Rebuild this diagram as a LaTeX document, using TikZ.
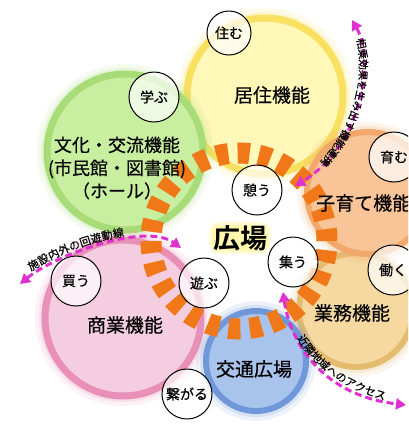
\documentclass[tikz,border=0pt]{standalone}
\usepackage{fontspec}
\setmainfont{Noto Sans CJK JP}[FakeBold=0.35]
\newfontfamily\jpbold{Noto Sans CJK JP Bold}
\usetikzlibrary{arrows.meta,decorations.text}
\definecolor{yfill}{HTML}{FFF8B8}
\definecolor{yline}{HTML}{F8E060}
\definecolor{gfill}{HTML}{C8EEA0}
\definecolor{gline}{HTML}{A8DC78}
\definecolor{pfill}{HTML}{F4CDE0}
\definecolor{pline}{HTML}{E890B8}
\definecolor{bfill}{HTML}{A8C4EC}
\definecolor{bline}{HTML}{7098D8}
\definecolor{tfill}{HTML}{F6D9A0}
\definecolor{tline}{HTML}{E4BC70}
\definecolor{ofill}{HTML}{F8C498}
\definecolor{oline}{HTML}{F2A86A}
\definecolor{ringorange}{HTML}{F07818}
\definecolor{mag}{HTML}{E030D0}
\definecolor{glowy}{HTML}{FFF060}
\newcommand\fnCircle[7]{%
  \fill[#6, opacity=0.12] (#2,#3) circle (#4+10);
  \fill[#6, opacity=0.18] (#2,#3) circle (#4+6);
  \node[bigcirc, minimum size=2*#4 pt, fill=#5, draw=#6, line width=#7] (#1) at (#2,#3) {};
}
\tikzset{
  bigcirc/.style={circle, inner sep=0pt},
  smallcirc/.style={circle, draw=black, line width=1pt, fill=white, fill opacity=0.7, text opacity=1,
    minimum size=50pt, inner sep=0pt, font=\fontsize{14}{14}\selectfont},
  biglabel/.style={font=\fontsize{19}{23}\selectfont, align=center, inner sep=0pt},
  ringdash/.style={draw=ringorange, line width=21pt, dash pattern=on 12pt off 9.27pt},
  flow/.style={draw=mag, line width=3pt, dash pattern=on 7pt off 4pt,
    {Triangle[length=10pt,width=11pt]}-{Triangle[length=10pt,width=11pt]}},
  flowtext/.style={decorate, decoration={text along path, text align={left indent=#1}}},
}
\begin{document}
\begin{tikzpicture}[x=1pt,y=1pt]
\useasboundingbox (0,0) rectangle (408,-424);
\clip (0,0) rectangle (408,-424);
\fill[white] (0,0) rectangle (408,-424);

% big circles
\fnCircle{kyoju}{265}{-96}{78}{yfill}{yline}{7pt}
\fnCircle{bunka}{125}{-152}{78}{gfill}{gline}{7pt}
\fnCircle{gyomu}{356}{-310}{57}{tfill}{tline}{6pt}
\fnCircle{kosodate}{368}{-193}{61}{ofill}{oline}{6pt}
\fnCircle{shogyo}{123}{-318}{78}{pfill}{pline}{7pt}
\fnCircle{kotsu}{256}{-361}{50}{bfill}{bline}{6pt}

% orange dashed ring
\coordinate (ring) at (239,-241);
\draw[ringdash] (ring) circle (88);

% labels
\node[biglabel] (lkyoju) at (272,-95) {居住機能};
\node[biglabel, font=\fontsize{18}{23}\selectfont] (lbunka) at (117,-168) {文化・交流機能\\(市民館・図書館)\\（ホール）};
\node[biglabel] (lshogyo) at (125,-325) {商業機能};
\node[biglabel] (lkotsu) at (254,-369) {交通広場};
\node[biglabel] (lgyomu) at (352,-313) {業務機能};
\node[biglabel, anchor=west] (lkosodate) at (316,-203) {子育て機能};

% plaza label with soft yellow glow
\fill[glowy, opacity=0.25, rounded corners=10pt] (209,-222) rectangle (271,-254);
\fill[glowy, opacity=0.35, rounded corners=7pt] (212,-225) rectangle (268,-251);
\node[font=\fontsize{27}{27}\selectfont\jpbold, inner sep=0pt] (hiroba) at (240,-238) {広場};

% small circles
\node[smallcirc, minimum size=44pt] (sumu) at (229,-33) {住む};
\node[smallcirc] (manabu) at (154,-97) {学ぶ};
\node[smallcirc] (ikou) at (257,-190) {憩う};
\node[smallcirc] (tsudou) at (293,-262) {集う};
\node[smallcirc] (asobu) at (204,-283) {遊ぶ};
\node[smallcirc] (kau) at (76,-281) {買う};
\node[smallcirc] (tsunagaru) at (187,-394) {繋がる};
\node[smallcirc] (hagukumu) at (394,-157) {育む};
\node[smallcirc] (hataraku) at (393,-270) {働く};

% magenta flows
\coordinate (a1s) at (352,-20);
\coordinate (a1e) at (295,-186);
\coordinate (a2s) at (20,-284);
\coordinate (a2e) at (181,-248);
\coordinate (a3s) at (283,-292);
\coordinate (a3e) at (406,-405);

\draw[flow] (a1s) .. controls (375,-60) and (362,-145) .. (a1e);
\draw[flow] (a2s) .. controls (55,-255) and (145,-222) .. (a2e);
\draw[flow] (a3s) .. controls (290,-340) and (320,-395) .. (a3e);

\path[flowtext=20pt, decoration={raise=-3pt, text={|\fontsize{10.5}{10.5}\selectfont|相乗効果を生み出す機能連携}}]
  (a1s) .. controls (375,-60) and (362,-145) .. (a1e);
\path[flowtext=16pt, decoration={raise=4pt, text={|\fontsize{11}{11}\selectfont|施設内外の回遊動線}}]
  (a2s) .. controls (55,-255) and (145,-222) .. (a2e);
\coordinate (t3s) at (297,-338);
\coordinate (t3e) at (400,-404);
\path[flowtext=0pt, decoration={raise=0pt, text={|\fontsize{11}{11}\selectfont|近隣地域へのアクセス}}]
  (t3s) .. controls (315,-368) and (345,-392) .. (t3e);
\end{tikzpicture}
\end{document}
